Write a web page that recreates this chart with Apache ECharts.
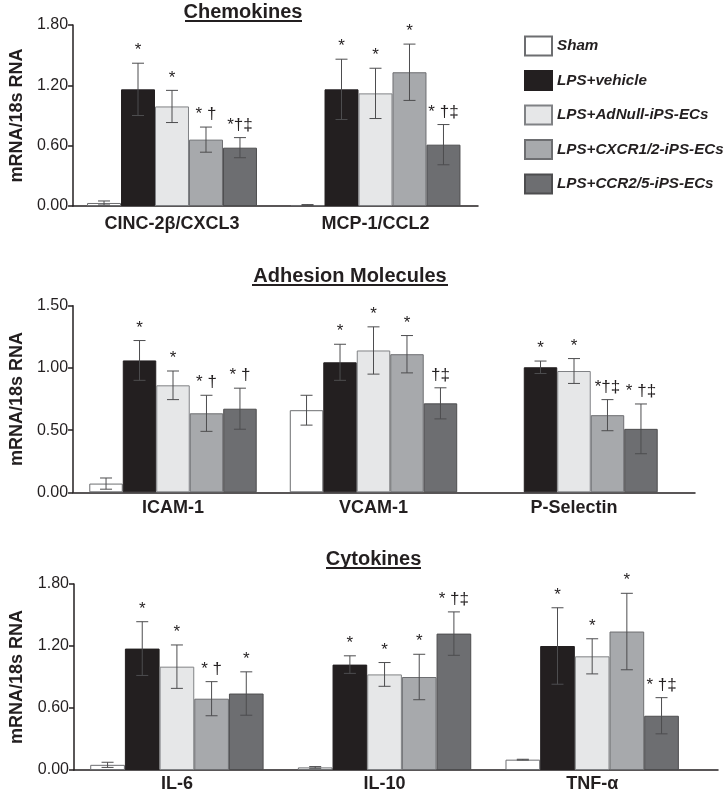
<!DOCTYPE html>
<html><head><meta charset="utf-8">
<script src="https://cdn.jsdelivr.net/npm/echarts@6/dist/echarts.min.js"></script>
<style>html,body{margin:0;padding:0;background:#fff}#c{width:728px;height:802px}</style>
</head><body><div id="c"></div>
<script>
// ---------- DATA ----------
const seriesNames = ['Sham', 'LPS+vehicle', 'LPS+AdNull-iPS-ECs', 'LPS+CXCR1/2-iPS-ECs', 'LPS+CCR2/5-iPS-ECs'];

const chemCategories = ['CINC-2β/CXCL3', 'MCP-1/CCL2'];
const chemMeans = [
  [0.03, 0.01],
  [1.16, 1.16],
  [0.99, 1.12],
  [0.66, 1.33],
  [0.58, 0.61]
];
const chemErrors = [
  [0.02, 0.004],
  [0.26, 0.30],
  [0.16, 0.25],
  [0.125, 0.28],
  [0.10, 0.20]
];
const chemNotes = [
  ['', ''],
  ['*', '*'],
  ['*', '*'],
  ['* †', '*'],
  ['*†‡', '* †‡']
];

const adhCategories = ['ICAM-1', 'VCAM-1', 'P-Selectin'];
const adhMeans = [
  [0.07, 0.66, null],
  [1.06, 1.045, 1.005],
  [0.86, 1.14, 0.975],
  [0.635, 1.11, 0.62],
  [0.672, 0.715, 0.51]
];
const adhErrors = [
  [0.045, 0.12, null],
  [0.16, 0.145, 0.05],
  [0.115, 0.19, 0.10],
  [0.145, 0.15, 0.125],
  [0.165, 0.125, 0.20]
];
const adhNotes = [
  ['', '', ''],
  ['*', '*', '*'],
  ['*', '*', '*'],
  ['* †', '*', '*†‡'],
  ['* †', '†‡', '* †‡']
];

const cytoCategories = ['IL-6', 'IL-10', 'TNF-α'];
const cytoMeans = [
  [0.05, 0.025, 0.10],
  [1.175, 1.02, 1.20],
  [1.0, 0.925, 1.10],
  [0.69, 0.90, 1.34],
  [0.74, 1.32, 0.525]
];
const cytoErrors = [
  [0.025, 0.008, 0.004],
  [0.26, 0.085, 0.37],
  [0.21, 0.115, 0.17],
  [0.165, 0.22, 0.37],
  [0.21, 0.21, 0.175]
];
const cytoNotes = [
  ['', '', ''],
  ['*', '*', '*'],
  ['*', '*', '*'],
  ['* †', '*', '*'],
  ['*', '* †‡', '* †‡']
];

const chemTicks = { max: 1.8, step: 0.6 };
const adhTicks = { max: 1.5, step: 0.5 };
const cytoTicks = { max: 1.8, step: 0.6 };

// ---------- STYLE / LAYOUT ----------
const FONT = '"Liberation Sans", Arial, Helvetica, sans-serif';
const INK = '#231f20';
const fills = ['#ffffff', '#231f20', '#e6e7e8', '#a7a9ac', '#6d6e71'];
const borders = ['#6d6e71', '#231f20', '#808285', '#6d6e71', '#4d4d4f'];
const GAP = 0.165;

const panels = [
  { cats: chemCategories, means: chemMeans, errs: chemErrors, notes: chemNotes, ticks: chemTicks,
    axisBox: { left: 67, right: 250, top: 25, height: 181 }, barBox: { left: 70.25, right: 250.75 },
    nameGap: 42, catMargin: 9 },
  { cats: adhCategories, means: adhMeans, errs: adhErrors, notes: adhNotes, ticks: adhTicks,
    axisBox: { left: 63, right: 33, top: 305.7, height: 186.6 }, barBox: { left: 72.75, right: 53.75 },
    nameGap: 42, catMargin: 7 },
  { cats: cytoCategories, means: cytoMeans, errs: cytoErrors, notes: cytoNotes, ticks: cytoTicks,
    axisBox: { left: 70, right: 10, top: 584, height: 186 }, barBox: { left: 73.1, right: 32 },
    nameGap: 48, catMargin: 5 }
];

const grid = [], xAxis = [], yAxis = [], series = [];
panels.forEach((p, pi) => {
  const gA = 2 * pi, gB = 2 * pi + 1;
  grid.push({ left: p.axisBox.left, right: p.axisBox.right, top: p.axisBox.top, height: p.axisBox.height });
  grid.push({ left: p.barBox.left, right: p.barBox.right, top: p.axisBox.top, height: p.axisBox.height });
  xAxis.push({ gridIndex: gA, type: 'value', min: 0, max: 1,
    axisLine: { show: true, onZero: false, lineStyle: { color: INK, width: 1.5 } },
    axisTick: { show: false }, axisLabel: { show: false }, splitLine: { show: false } });
  xAxis.push({ gridIndex: gB, type: 'category', data: p.cats,
    axisLine: { show: false }, axisTick: { show: false }, splitLine: { show: false },
    axisLabel: { margin: p.catMargin, fontFamily: FONT, fontWeight: 'bold', fontSize: 18, color: INK } });
  yAxis.push({ gridIndex: gA, type: 'value', min: 0, max: p.ticks.max, interval: p.ticks.step,
    axisLine: { show: true, lineStyle: { color: INK, width: 1.5 } },
    axisTick: { show: true, length: 5, lineStyle: { color: INK, width: 1.5 } },
    axisLabel: { formatter: v => v.toFixed(2), fontFamily: FONT, fontSize: 16, color: INK, margin: 5 },
    splitLine: { show: false },
    name: 'mRNA/18s RNA', nameLocation: 'middle', nameGap: p.nameGap,
    nameTextStyle: { fontFamily: FONT, fontWeight: 'bold', fontSize: 18, color: INK } });
  yAxis.push({ gridIndex: gB, type: 'value', min: 0, max: p.ticks.max, show: false });

  seriesNames.forEach((name, s) => {
    series.push({ type: 'bar', name, xAxisIndex: gB, yAxisIndex: gB, data: p.means[s],
      barGap: '0%', barCategoryGap: (GAP * 100) + '%', silent: true,
      itemStyle: { color: fills[s], borderColor: borders[s], borderWidth: 1 } });
  });

  const items = [];
  p.means.forEach((row, s) => row.forEach((m, c) => {
    if (m != null) items.push([c, m, p.errs[s][c], s]);
  }));
  const notes = p.notes;
  series.push({ type: 'custom', xAxisIndex: gB, yAxisIndex: gB, z: 10, silent: true,
    data: items, encode: { x: 0, y: 1 },
    renderItem: (params, api) => {
      const c = api.value(0), v = api.value(1), e = api.value(2), s = api.value(3);
      const band = api.size([1, 0])[0];
      const bw = band * (1 - GAP) / 5;
      const cx = api.coord([c, 0])[0] + (s - 2) * bw;
      const yT = api.coord([c, v + e])[1];
      const yB = api.coord([c, Math.max(v - e, 0)])[1];
      const cap = 6;
      const ls = { stroke: '#4d4d4f', lineWidth: 1 };
      return { type: 'group', children: [
        { type: 'line', shape: { x1: cx, y1: yT, x2: cx, y2: yB }, style: ls },
        { type: 'line', shape: { x1: cx - cap, y1: yT, x2: cx + cap, y2: yT }, style: ls },
        { type: 'line', shape: { x1: cx - cap, y1: yB, x2: cx + cap, y2: yB }, style: ls },
        { type: 'text', x: cx, y: yT - 4, style: { text: notes[s][c], fontFamily: FONT, fontSize: 17,
          fill: INK, align: 'center', verticalAlign: 'bottom' } }
      ] };
    }
  });
});

function title(text, cx, cy, x1, x2, uy) {
  return [
    { type: 'text', x: cx, y: cy, style: { text, fontFamily: FONT, fontWeight: 'bold', fontSize: 20,
      fill: INK, align: 'center', verticalAlign: 'middle' } },
    { type: 'rect', shape: { x: x1, y: uy, width: x2 - x1, height: 2 }, style: { fill: INK } }
  ];
}

const option = {
  animation: false,
  backgroundColor: '#ffffff',
  grid, xAxis, yAxis, series,
  legend: {
    data: seriesNames, orient: 'vertical', left: 524, top: 35.5, padding: 0,
    itemWidth: 27, itemHeight: 19, itemGap: 13.5, icon: 'rect', selectedMode: false,
    textStyle: { fontFamily: FONT, fontWeight: 'bold', fontStyle: 'italic', fontSize: 15.2, color: INK }
  },
  graphic: [].concat(
    title('Chemokines', 243, 12, 185, 302, 20),
    title('Adhesion Molecules', 350, 276, 252, 448, 284),
    title('Cytokines', 373.5, 559.5, 326, 421, 567)
  )
};

const chart = echarts.init(document.getElementById('c'), null, { renderer: 'canvas' });
chart.setOption(option);
</script>
</body></html>
